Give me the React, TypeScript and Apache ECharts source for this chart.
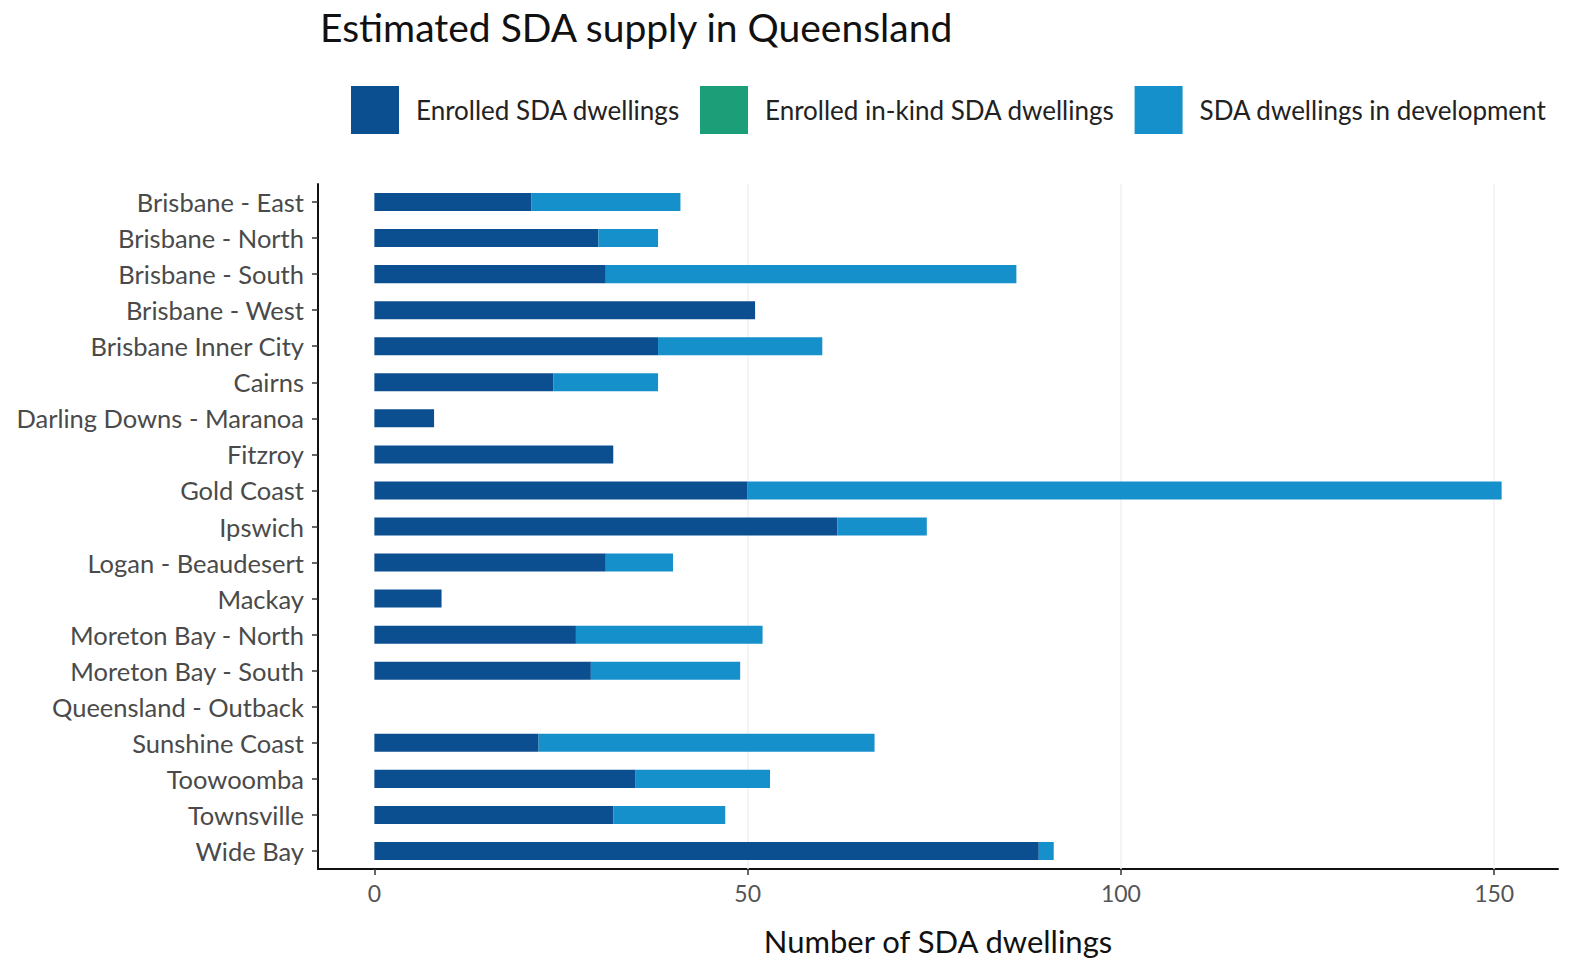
import React, { useEffect, useRef } from "react";
import * as echarts from "echarts";

const categories = [
  "Brisbane - East",
  "Brisbane - North",
  "Brisbane - South",
  "Brisbane - West",
  "Brisbane Inner City",
  "Cairns",
  "Darling Downs - Maranoa",
  "Fitzroy",
  "Gold Coast",
  "Ipswich",
  "Logan - Beaudesert",
  "Mackay",
  "Moreton Bay - North",
  "Moreton Bay - South",
  "Queensland - Outback",
  "Sunshine Coast",
  "Toowoomba",
  "Townsville",
  "Wide Bay",
];

const enrolled = [21, 30, 31, 51, 38, 24, 8, 32, 50, 62, 31, 9, 27, 29, 0, 22, 35, 32, 89];
const enrolledInKind = [0, 0, 0, 0, 0, 0, 0, 0, 0, 0, 0, 0, 0, 0, 0, 0, 0, 0, 0];
const inDevelopment = [20, 8, 55, 0, 22, 14, 0, 0, 101, 12, 9, 0, 25, 20, 0, 45, 18, 15, 2];

const xTicks = [0, 50, 100, 150];
const gridValues = [50, 100, 150];

const FONT = "Lato, 'Open Sans', sans-serif";

export default function App() {
  const ref = useRef<HTMLDivElement>(null);

  useEffect(() => {
    if (!ref.current) return;
    const chart = echarts.init(ref.current, null, { renderer: "svg" });
    chart.setOption({
      animation: false,
      backgroundColor: "#ffffff",
      title: {
        text: "Estimated SDA supply in Queensland",
        left: 315,
        top: 2,
        textStyle: { fontFamily: FONT, fontSize: 39, fontWeight: "normal", color: "#111" },
      },
      legend: {
        left: 346,
        top: 81,
        itemWidth: 48,
        itemHeight: 48,
        itemGap: 20,
        icon: "rect",
        textStyle: { fontFamily: FONT, fontSize: 26, color: "#222", padding: [0, 0, 0, 12] },
        data: ["Enrolled SDA dwellings", "Enrolled in-kind SDA dwellings", "SDA dwellings in development"],
      },
      grid: { left: 318, right: 17, top: 184, height: 686 },
      xAxis: {
        type: "value",
        min: -7.55,
        max: 158.55,
        name: "Number of SDA dwellings",
        nameLocation: "middle",
        nameGap: 56,
        nameTextStyle: { fontFamily: FONT, fontSize: 31, color: "#111" },
        axisLine: { show: true, onZero: false, lineStyle: { color: "#111", width: 2 } },
        axisTick: { show: true, length: 6, customValues: xTicks, lineStyle: { color: "#333", width: 1.5 } },
        axisLabel: { customValues: xTicks, fontFamily: FONT, fontSize: 23, color: "#555", margin: 12 },
        splitLine: { show: false },
      },
      yAxis: {
        type: "category",
        inverse: true,
        data: categories,
        axisLine: { show: true, onZero: false, lineStyle: { color: "#111", width: 2 } },
        axisTick: { show: true, alignWithLabel: true, length: 6, lineStyle: { color: "#333", width: 1.5 } },
        axisLabel: { fontFamily: FONT, fontSize: 25.5, color: "#4a4a4a", margin: 14 },
      },
      series: [
        {
          name: "Enrolled SDA dwellings",
          type: "bar",
          stack: "total",
          barWidth: "50%",
          data: enrolled,
          itemStyle: { color: "#0c4f91" },
          z: 3,
          markLine: {
            silent: true,
            symbol: "none",
            label: { show: false },
            lineStyle: { color: "#f0f0f0", width: 1.5, type: "solid" },
            data: gridValues.map((v) => ({ xAxis: v })),
            z: 1,
          },
        },
        {
          name: "Enrolled in-kind SDA dwellings",
          type: "bar",
          stack: "total",
          barWidth: "50%",
          data: enrolledInKind,
          itemStyle: { color: "#1c9e78" },
          z: 3,
        },
        {
          name: "SDA dwellings in development",
          type: "bar",
          stack: "total",
          barWidth: "50%",
          data: inDevelopment,
          itemStyle: { color: "#1590cb" },
          z: 3,
        },
      ],
    });
    return () => chart.dispose();
  }, []);

  return (
    <div
      ref={ref}
      style={{ position: "fixed", left: 0, top: 0, width: 1575, height: 961, background: "#fff" }}
    />
  );
}
